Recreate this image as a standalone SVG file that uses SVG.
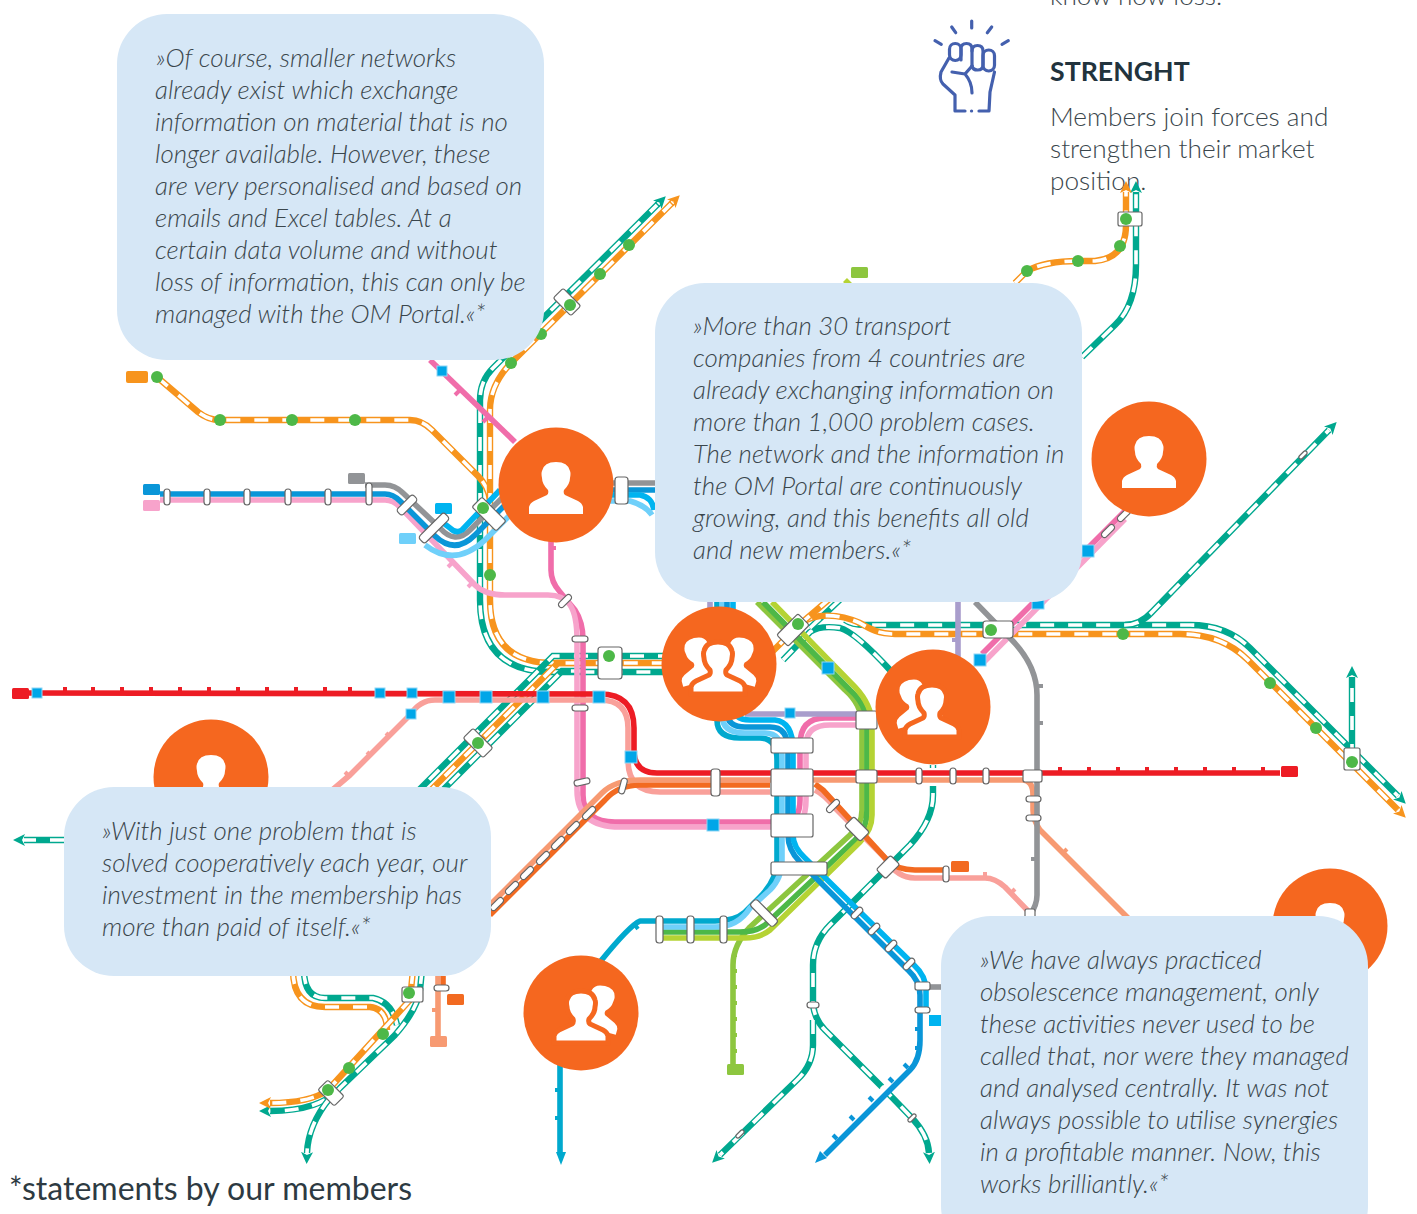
<svg xmlns="http://www.w3.org/2000/svg" width="1417" height="1214" viewBox="0 0 1417 1214">
<style>
text{font-family:Lato,"Liberation Sans",sans-serif}
.q{font-size:25.9px;font-weight:300;font-style:italic;fill:#3a464c}
.b{font-size:26.2px;font-weight:300;fill:#3a464c}
.l{fill:none;stroke-width:5.6;stroke-linejoin:round}
.d{fill:none;stroke:#fff;stroke-width:3.6;stroke-dasharray:14 14}
.t{fill:none;stroke:#00a88f;stroke-width:6.4}
.o{fill:none;stroke:#f7941d;stroke-width:6.4}
.at{marker-end:url(#mt)}.ao{marker-end:url(#mo)}
.h{fill:#fff;stroke:#666;stroke-width:1.2}
.g{fill:#4db848}.s{fill:#00a6e8;stroke:#8ed6f5;stroke-width:1}
.c{fill:#f5671f}.bub{fill:#d6e7f6}.w{fill:#fff}.wo{fill:#fff;stroke:#f5671f;stroke-width:5}
</style>
<defs>
<marker id="mt" markerUnits="userSpaceOnUse" markerWidth="14" markerHeight="14" refX="1" refY="7" orient="auto"><path d="M0 1L12 7L0 13L3 7Z" fill="#00a88f"/></marker>
<marker id="mo" markerUnits="userSpaceOnUse" markerWidth="14" markerHeight="14" refX="1" refY="7" orient="auto"><path d="M0 1L12 7L0 13L3 7Z" fill="#f7941d"/></marker>
<path id="p" d="M-27 29L-27 22Q-26 18-22 16L-9 10Q-7 8-8 5Q-14-1-14-7Q-15-12-14-14Q-12-23 0-23Q12-23 14-14Q15-12 14-7Q14-1 8 5Q7 8 9 10L22 16Q26 18 27 22L27 29Z"/>
<path id="T1" d="M660 202L493 368Q480 381 480 400L480 600Q480 672 552 672L700 672"/>
<path id="O1" d="M673 202L511 363Q490 385 490 410L490 600Q490 663 553 663L700 663"/>
<path id="O2" d="M157 377L198 412Q208 420 220 420L410 420Q422 420 432 430L478 476Q488 486 490 500"/>
<path id="T2" d="M700 656L575 656Q563 656 553 656L535 674L410 799"/>
<path id="O3" d="M580 663Q568 663 558 663L545 676L420 801"/>
<path id="T3" d="M585 671Q572 671 562 671L550 683L430 803"/>
<path id="O4" d="M760 664L800 624C815 612 840 614 860 623C870 629 878 634 895 634L1180 634Q1222 634 1248 660L1398 810"/>
<path id="O5" d="M799 625L840 590"/>
<path id="T4" d="M783 660L810 632Q820 625 840 628Q855 632 890 670"/>
<path id="T5" d="M810 628L845 595"/>
<path id="T6" d="M845 620Q852 625 865 625L1190 625Q1227 625 1250 648L1398 796"/>
<path id="T7" d="M1125 625Q1140 625 1152 612L1329 430"/>
<path id="T8" d="M1352 758L1352 677"/>
<path id="T9" d="M933 765L933 795Q933 820 910 845L830 925Q813 942 813 965L813 1005Q815 1020 825 1030L885 1090L912 1118Q928 1135 929 1153"/>
<path id="T10" d="M813 1020L813 1045Q813 1065 797 1080L720 1155"/>
<path id="T11" d="M1082 357L1115 325Q1136 305 1136 265L1136 192"/>
<path id="O6" d="M1015 283L1027 271Q1045 261 1078 261L1095 261Q1126 258 1126 225L1126 192"/>
<path id="O7" d="M293 970Q293 1007 325 1007L370 1007Q387 1009 387 1030"/>
<path id="T12" d="M304 970Q304 998 325 998L373 998Q392 1002 397 1025"/>
<path id="O8" d="M413 970L410 1000L328 1090Q310 1103 270 1103"/>
<path id="T13" d="M422 970L420 990Q417 1010 395 1035L340 1088Q320 1111 270 1111"/>
<path id="T14" d="M330 1098Q308 1125 307 1153"/>
<path id="T15" d="M64 840L24 840"/>
</defs>

<g id="side-text">
<text class="b" x="1050" y="5">know how loss.</text>
<text x="1050" y="81" font-size="26.700" font-weight="700" fill="#22333d">STRENGHT</text>
<text class="b" x="1050" y="126">Members join forces and</text>
<text class="b" x="1050" y="158">strengthen their market</text>
<text class="b" x="1050" y="190">position.</text>
<text x="9" y="1200" font-size="32" fill="#2d3a42">*statements by our members</text>
</g>
<g id="fist" fill="none" stroke="#4460ae" stroke-width="3.200" stroke-linecap="round" stroke-linejoin="round">
<path d="M971.7 21V28M951.7 27L955.7 32.7M991.7 27L987.3 32.7M935 40.7L941.3 44.3M1008.3 40.7L1002 44.3"/>
<rect x="949.5" y="43.5" width="11.5" height="17" rx="5.7"/>
<path d="M961 60V49Q961 43.5 966.5 43.5Q972 43.5 972 49V66"/>
<path d="M972 51Q972 45.5 977.5 45.5Q983 45.5 983 51V65Q983 70 977.5 70Q973 70 972 66"/>
<rect x="983" y="50" width="11.5" height="21" rx="5.7"/>
<path d="M949 58L941 72Q939 80 943 84L955 95V111H965M979 111H989L990 92L994.5 72"/>
<path d="M952 72L965 74L972 66M965 74Q972 82 972 93"/><path d="M971.5 111h.1"/>
</g>

<g id="connectors">
<use href="#T1" class="t"/><use href="#T1" class="d"/>
<path class="t at" d="M657 205L658 204"/>
<use href="#O2" class="o"/><use href="#O2" class="d"/>
<use href="#O1" class="o"/><use href="#O1" class="d"/>
<path class="o ao" d="M671 204L672 203"/>
<use href="#T2" class="t"/><use href="#T2" class="d"/>
<use href="#O3" class="o"/><use href="#O3" class="d"/>
<use href="#T3" class="t"/><use href="#T3" class="d"/>
<use href="#T6" class="t at"/><use href="#T6" class="d"/>
<use href="#T4" class="t"/><use href="#T4" class="d"/>
<use href="#T5" class="t"/><use href="#T5" class="d"/>
<use href="#O4" class="o ao"/><use href="#O4" class="d"/>
<use href="#O5" class="o"/><use href="#O5" class="d"/>
<use href="#T7" class="t at"/><use href="#T7" class="d"/>
<use href="#T8" class="t at"/><use href="#T8" class="d"/>
<use href="#T9" class="t at"/><use href="#T9" class="d"/>
<use href="#T10" class="t at"/><use href="#T10" class="d"/>
<use href="#T11" class="t at"/><use href="#T11" class="d"/>
<use href="#O6" class="o ao"/><use href="#O6" class="d"/>
<use href="#T12" class="t"/><use href="#T12" class="d"/>
<use href="#O7" class="o"/><use href="#O7" class="d"/>
<use href="#T13" class="t at"/><use href="#T13" class="d"/>
<use href="#O8" class="o ao"/><use href="#O8" class="d"/>
<use href="#T14" class="t at"/><use href="#T14" class="d"/>
<use href="#T15" class="t at"/><use href="#T15" class="d"/>
<!-- halos where lines pass over the dashed lines -->
<path fill="none" stroke="#fff" stroke-width="9" d="M933 768V786M872 1103L898 1077"/>
<!-- greens -->
<path class="l" stroke="#8dc63f" d="M757 602L845 690Q862 705 862 725L862 810Q862 825 850 835L750 927Q733 945 733 965L733 1064"/>
<path class="l" stroke="#4db848" d="M763 602L850 690Q867 705 867 725L867 810Q867 830 855 840L765 925Q755 932 740 932L660 932"/>
<path class="l" stroke="#b5d334" d="M772 602L855 687Q872 705 872 725L872 815Q872 830 860 842L770 930Q760 938 745 938L660 938M845 280L852 287"/>
<!-- pink, gray, blues -->
<path class="l" stroke="#f06daa" d="M430 360L515 442"/>
<path class="l" stroke="#f06daa" d="M551 535L551 570Q551 582 560 592L575 610Q583 622 583 640L583 795Q583 822 615 822L785 822Q800 820 800 800L800 745Q800 718 825 718L865 718"/>
<path class="l" stroke="#f7a3cb" d="M160 500L385 500Q393 500 400 507L475 585Q485 595 505 595L548 595Q563 595 570 605Q577 615 577 640L577 790Q577 827 620 827L790 827Q806 825 806 800L806 745Q806 725 830 725L865 725"/>
<path class="l" stroke="#929497" d="M365 485L385 485Q395 485 403 493L440 528Q455 545 470 530L510 490M610 483L660 483"/>
<path class="l" stroke="#0a96d8" d="M160 494L385 494Q393 494 400 501L435 536Q455 555 475 535L515 495M610 490L660 490"/>
<path class="l" stroke="#00b4f0" d="M442 522L450 528Q456 534 462 530L500 490M610 495L640 495Q652 497 654 510"/>
<path class="l" stroke="#6fd0fa" d="M425 545Q455 568 485 540L520 505M610 501L630 501Q645 505 652 515"/>
<path class="l" stroke="#a99dcc" d="M710 600V625M745 714H865M958 600V665"/>
<path class="l" stroke="#00a9ce" d="M717 600L717 720Q717 738 740 738L760 738Q777 738 777 760L777 860Q777 880 760 897L745 912Q735 921 715 921L640 921Q630 925 600 962M560 1060V1155"/>
<path class="l" stroke="#6fd0fa" d="M722 600L722 715Q722 733 745 733L765 733Q782 733 782 755L782 860Q782 878 770 890L750 908Q738 927 715 927L660 927"/>
<path class="l" stroke="#0a96d8" d="M727 600L727 712Q727 727 745 727L770 727Q788 727 788 750L788 835Q788 850 800 862L908 970Q920 981 920 995L920 1040Q920 1060 910 1070L825 1155"/>
<path class="l" stroke="#00b4f0" d="M733 600L733 705Q733 720 750 720L775 720Q793 722 793 750L793 835Q793 847 805 858L914 965Q926 976 926 990V1010"/>
<path class="l" stroke="#929497" d="M930 987H942"/>
<path d="M815 1163L820 1151L827 1158Z" fill="#0a96d8"/><path d="M561 1165L556 1152H566Z" fill="#00a9ce"/>
<!-- red / orange / salmon -->
<path class="l" stroke="#f9a09a" d="M330 792L350 775L410 715Q420 700 435 700L600 700Q628 700 628 728L628 760Q628 792 660 792L770 792M815 790Q825 795 835 808L885 858Q897 878 915 878L985 878Q995 878 1005 887L1030 913"/>
<path class="l" stroke="#ed1c24" stroke-width="6" d="M29 693L600 694Q634 694 634 728L634 750Q634 773 657 773L1280 773"/>
<path class="l" stroke="#f26a21" d="M490 915L605 800Q618 785 640 785L770 785M815 784L823 790L887 860Q897 870 915 870L945 870M443 976V990"/>
<path class="l" stroke="#f79a72" d="M485 910L602 793Q615 780 640 780L1022 780Q1033 780 1033 795L1033 810Q1033 820 1040 830L1130 920M438 976V1036"/>
<path class="l" stroke="#f06daa" d="M1125 511L982 654"/>
<path class="l" stroke="#f7a3cb" d="M1125 519L984 662"/>
<path class="l" stroke="#929497" d="M975 602L1010 638Q1037 665 1037 695L1037 895Q1037 905 1030 915"/>
<!-- ticks -->
<path fill="none" stroke="#ed1c24" stroke-width="4" d="M65 693v-6M93 693v-6M122 693v-6M151 693v-6M180 693v-6M209 693v-6M238 693v-6M267 693v-6M296 693v-6M325 693v-6M350 693v-6M1060 773v-6M1089 773v-6M1118 773v-6M1147 773v-6M1176 773v-6M1205 773v-6M1234 773v-6M1263 773v-6"/>
<path fill="none" stroke="#929497" stroke-width="4" d="M1037 686h6M1037 723h6M1037 859h-6"/>
<path fill="none" stroke="#a99dcc" stroke-width="4" d="M958 640h-6"/>
<path fill="none" stroke="#f7a3cb" stroke-width="4" d="M452 563l-4 4M472 583l-4 4"/>
<path fill="none" stroke="#f06daa" stroke-width="4" d="M459 391l-4 4M487 418l-4 4M551 548h5"/>
<path fill="none" stroke="#f9a09a" stroke-width="4" d="M345 772l4 4M367 752l4 4M386 733l4 4M985 878v-6M1011 893l4-4"/>
<path fill="none" stroke="#f79a72" stroke-width="4" d="M1063 853l4-4M438 1010h-6"/>
<path fill="none" stroke="#8dc63f" stroke-width="4" d="M733 955h4M733 971h4M733 987h4M733 1003h4M733 1019h4M733 1035h4M733 1051h4"/>
<path fill="none" stroke="#00a9ce" stroke-width="4" d="M635 925l3 4M560 1090h-5M560 1118h-5"/>
<path fill="none" stroke="#0a96d8" stroke-width="4" d="M920 1029h-5M920 1048h-5M908 1068l-4-4M893 1082l-4-4M873 1101l-4-4M854 1120l-4-4M837 1139l-4-4"/>
</g>

<g id="end-caps">
<rect x="126" y="371" width="22" height="12" rx="2" fill="#f7941d"/>
<rect x="143" y="484" width="17" height="11" rx="1.5" fill="#0a96d8"/>
<rect x="143" y="500" width="17" height="11" rx="1.5" fill="#f7a3cb"/>
<rect x="348" y="473" width="17" height="11" rx="1.5" fill="#929497"/>
<rect x="435" y="503" width="17" height="11" rx="1.5" fill="#00b4f0"/>
<rect x="399" y="533" width="17" height="11" rx="1.5" fill="#6fd0fa"/>
<rect x="851" y="267" width="17" height="11" rx="1.5" fill="#8dc63f"/>
<rect x="12" y="688" width="17" height="11" rx="1.5" fill="#ed1c24"/>
<rect x="1281" y="766" width="17" height="11" rx="1.5" fill="#ed1c24"/>
<rect x="951" y="861" width="18" height="11" rx="1.5" fill="#f26a21"/>
<rect x="447" y="994" width="17" height="11" rx="1.5" fill="#f26a21"/>
<rect x="430" y="1036" width="17" height="11" rx="1.5" fill="#f79a72"/>
<rect x="727" y="1064" width="17" height="11" rx="1.5" fill="#8dc63f"/>
</g>

<g id="squares">
<rect class="s" x="32" y="688" width="10" height="10"/><rect class="s" x="375" y="688" width="10" height="10"/><rect class="s" x="407" y="688" width="10" height="10"/>
<rect class="s" x="443" y="691" width="12" height="12"/><rect class="s" x="480" y="691" width="12" height="12"/><rect class="s" x="537" y="691" width="12" height="12"/><rect class="s" x="593" y="691" width="12" height="12"/>
<rect class="s" x="406" y="709" width="10" height="10"/><rect class="s" x="437" y="366" width="10" height="10"/>
<rect class="s" x="625" y="751" width="12" height="12"/><rect class="s" x="707" y="819" width="12" height="12"/><rect class="s" x="785" y="708" width="10" height="10"/>
<rect class="s" x="822" y="662" width="12" height="12"/><rect class="s" x="974" y="654" width="12" height="12"/><rect class="s" x="1032" y="597" width="12" height="12"/>
<rect class="s" x="1082" y="545" width="12" height="12"/><rect x="929" y="1015" width="12" height="11" fill="#00b4f0"/>
</g>

<g id="stations">
<g id="h01"><rect class="h" x="164" y="489" width="6" height="16" rx="3"/></g>
<g id="h02"><rect class="h" x="204" y="489" width="6" height="16" rx="3"/></g>
<g id="h03"><rect class="h" x="244" y="489" width="6" height="16" rx="3"/></g>
<g id="h04"><rect class="h" x="285" y="489" width="6" height="16" rx="3"/></g>
<g id="h05"><rect class="h" x="325" y="489" width="6" height="16" rx="3"/></g>
<g id="h06"><rect class="h" x="366" y="483" width="6" height="22" rx="3"/></g>
<g id="h07"><rect class="h" x="-4" y="-11.500" width="8" height="23" rx="3" transform="translate(407 505) rotate(45)"/></g>
<g id="h08"><rect class="h" x="-4.500" y="-18" width="9" height="36" rx="3" transform="translate(434 528) rotate(45)"/></g>
<g id="h09"><rect class="h" x="-17" y="-7" width="34" height="14" rx="2" transform="translate(489 514) rotate(45)"/><circle class="g" cx="483" cy="508" r="6"/></g>
<g id="h10"><rect class="h" x="615" y="477" width="13" height="27" rx="3"/></g>
<g id="h11"><rect class="h" x="-3" y="-8" width="6" height="16" rx="3" transform="translate(565 601) rotate(45)"/></g>
<g id="h12"><rect class="h" x="572" y="636" width="16" height="6" rx="3"/></g>
<g id="h13"><rect class="h" x="572" y="705" width="16" height="6" rx="3"/></g>
<g id="h14"><rect class="h" x="574" y="779" width="16" height="6" rx="3" transform="rotate(-12 582 782)"/></g>
<g id="h15"><rect class="h" x="598" y="647" width="24" height="32" rx="3"/><circle class="g" cx="609" cy="656" r="6"/></g>
<g id="h16"><rect class="h" x="711" y="769" width="9" height="27" rx="3"/></g>
<g id="h17"><rect class="h" x="771" y="738" width="42" height="15" rx="2"/></g>
<g id="h18"><rect class="h" x="771" y="769" width="42" height="27" rx="2"/></g>
<g id="h19"><rect class="h" x="771" y="814" width="42" height="23" rx="2"/></g>
<g id="h20"><rect class="h" x="771" y="862" width="56" height="13" rx="2"/></g>
<g id="h21"><rect class="h" x="856" y="711" width="21" height="18" rx="2"/></g>
<g id="h22"><rect class="h" x="856" y="770" width="21" height="13" rx="2"/></g>
<g id="h23"><rect class="h" x="916" y="768" width="6" height="16" rx="3"/></g>
<g id="h24"><rect class="h" x="950" y="768" width="6" height="16" rx="3"/></g>
<g id="h25"><rect class="h" x="983" y="768" width="6" height="16" rx="3"/></g>
<g id="h26"><rect class="h" x="1023" y="770" width="19" height="12" rx="2"/></g>
<g id="h27"><rect class="h" x="1026" y="796" width="15" height="6" rx="3"/></g>
<g id="h28"><rect class="h" x="1026" y="815" width="15" height="6" rx="3"/></g>
<g id="h29"><rect class="h" x="-3" y="-8" width="6" height="16" rx="3" transform="translate(833 806) rotate(45)"/></g>
<g id="h30"><rect class="h" x="-11" y="-6.500" width="22" height="13" rx="2" transform="translate(857 829) rotate(45)"/></g>
<g id="h31"><rect class="h" x="-10" y="-6.500" width="20" height="13" rx="2" transform="translate(888 867) rotate(-45)"/></g>
<g id="h32"><rect class="h" x="943" y="866" width="6" height="16" rx="3"/></g>
<g id="h33"><rect class="h" x="-16" y="-4.500" width="32" height="9" rx="3" transform="translate(764 913) rotate(45)"/></g>
<g id="h34"><rect class="h" x="656" y="916" width="7" height="27" rx="3"/></g>
<g id="h35"><rect class="h" x="687" y="916" width="7" height="27" rx="3"/></g>
<g id="h36"><rect class="h" x="720" y="916" width="7" height="27" rx="3"/></g>
<g id="h37"><rect class="h" x="-3" y="-7" width="6" height="14" rx="3" transform="translate(857 913) rotate(45)"/></g>
<g id="h38"><rect class="h" x="-3" y="-7" width="6" height="14" rx="3" transform="translate(874 929) rotate(45)"/></g>
<g id="h39"><rect class="h" x="-3" y="-7" width="6" height="14" rx="3" transform="translate(891 946) rotate(45)"/></g>
<g id="h40"><rect class="h" x="-3" y="-7" width="6" height="14" rx="3" transform="translate(909 964) rotate(45)"/></g>
<g id="h41"><rect class="h" x="915" y="982" width="15" height="8" rx="2"/></g>
<g id="h42"><rect class="h" x="915" y="1007" width="15" height="6" rx="3"/></g>
<g id="h43"><rect class="h" x="-15" y="-8" width="30" height="16" rx="2" transform="translate(793 630) rotate(-45)"/><circle class="g" cx="798" cy="624" r="6"/></g>
<g id="h44"><rect class="h" x="983" y="621" width="30" height="17" rx="3"/><circle class="g" cx="991" cy="630" r="6"/></g>
<g id="h45"><rect class="h" x="807" y="1002" width="12" height="6" rx="3"/></g>
<g id="h46"><rect class="h" x="-2" y="-5" width="4" height="10" rx="2" transform="translate(740 1134) rotate(45)"/></g>
<g id="h47"><rect class="h" x="-2" y="-5" width="4" height="10" rx="2" transform="translate(912 1118) rotate(45)"/></g>
<g id="h48"><rect class="h" x="-2" y="-5" width="4" height="10" rx="2" transform="translate(1303 455) rotate(45)"/></g>
<g id="h49"><rect class="h" x="-3" y="-8" width="6" height="16" rx="3" transform="translate(1124 515) rotate(45)"/></g>
<g id="h50"><rect class="h" x="-3" y="-8" width="6" height="16" rx="3" transform="translate(1108 531) rotate(45)"/></g>
<g id="h51"><rect class="h" x="-14" y="-7" width="28" height="14" rx="2" transform="translate(478 743) rotate(45)"/><circle class="g" cx="478" cy="743" r="6"/></g>
<g id="h52"><rect class="h" x="1118" y="212" width="24" height="14" rx="2"/><circle class="g" cx="1126" cy="219" r="6"/></g>
<g id="h53"><rect class="h" x="1344" y="748" width="16" height="22" rx="2"/><circle class="g" cx="1352" cy="762" r="6"/></g>
<g id="h54"><rect class="h" x="402" y="987" width="21" height="15" rx="2"/><circle class="g" cx="409" cy="993" r="6"/></g>
<g id="h55"><rect class="h" x="-11.500" y="-7" width="23" height="14" rx="2" transform="translate(331 1093) rotate(45)"/><circle class="g" cx="328" cy="1090" r="6"/></g>
<g id="h56"><rect class="h" x="434" y="985" width="15" height="6" rx="3"/></g>
<g id="h57"><rect class="h" x="1025" y="909" width="10" height="10" rx="2"/></g>
<g id="h58"><rect class="h" x="-3" y="-8" width="6" height="16" rx="3" transform="translate(497 904) rotate(45)"/></g>
<g id="h59"><rect class="h" x="-3" y="-8" width="6" height="16" rx="3" transform="translate(512 888) rotate(45)"/></g>
<g id="h60"><rect class="h" x="-3" y="-8" width="6" height="16" rx="3" transform="translate(527 873) rotate(45)"/></g>
<g id="h61"><rect class="h" x="-3" y="-8" width="6" height="16" rx="3" transform="translate(543 858) rotate(45)"/></g>
<g id="h62"><rect class="h" x="-3" y="-8" width="6" height="16" rx="3" transform="translate(558 843) rotate(45)"/></g>
<g id="h63"><rect class="h" x="-3" y="-8" width="6" height="16" rx="3" transform="translate(573 828) rotate(45)"/></g>
<g id="h64"><rect class="h" x="-3" y="-8" width="6" height="16" rx="3" transform="translate(589 813) rotate(45)"/></g>
<g id="h65"><rect class="h" x="-3" y="-8" width="6" height="16" rx="3" transform="translate(623 786) rotate(15)"/></g>
<g id="h66"><rect class="h" x="-12.500" y="-7" width="25" height="14" rx="2" transform="translate(567 302) rotate(45)"/></g>
<g id="dots" class="g">
<circle cx="157" cy="377" r="6"/><circle cx="220" cy="420" r="6"/><circle cx="292" cy="420" r="6"/><circle cx="355" cy="420" r="6"/><circle cx="490" cy="575" r="6"/>
<circle cx="511" cy="363" r="6"/><circle cx="541" cy="334" r="6"/><circle cx="570" cy="305" r="6"/><circle cx="600" cy="274" r="6"/><circle cx="629" cy="245" r="6"/>
<circle cx="1123" cy="634" r="6"/><circle cx="1270" cy="683" r="6"/><circle cx="1316" cy="728" r="6"/>
<circle cx="1120" cy="246" r="6"/><circle cx="1078" cy="261" r="6"/><circle cx="1027" cy="271" r="6"/>
<circle cx="383" cy="1034" r="6"/><circle cx="349" cy="1068" r="6"/>
</g>
</g>

<g id="member-1"><circle class="c" cx="556" cy="485" r="57.500"/><use href="#p" class="w" x="556" y="485"/></g>
<g id="member-2"><circle class="c" cx="1149" cy="459" r="57.500"/><use href="#p" class="w" x="1149" y="459"/></g>
<g id="member-3"><circle class="c" cx="719" cy="664" r="57.500"/>
<use href="#p" class="w" transform="translate(699 657) rotate(-15) scale(.85)"/><use href="#p" class="w" transform="translate(739 657) rotate(15) scale(.85)"/><use href="#p" class="wo" x="718" y="665"/></g>
<g id="member-4"><circle class="c" cx="933" cy="707" r="57.500"/>
<use href="#p" class="w" transform="translate(914 699) rotate(-15) scale(.85)"/><use href="#p" class="wo" x="932" y="708"/></g>
<g id="member-5"><circle class="c" cx="211" cy="777" r="57.500"/><use href="#p" class="w" x="211" y="778"/></g>
<g id="member-6"><circle class="c" cx="1330" cy="926" r="57.500"/><use href="#p" class="w" x="1330" y="926"/></g>
<g id="member-7"><circle class="c" cx="581" cy="1013" r="57.500"/>
<use href="#p" class="w" transform="translate(600 1005) rotate(15) scale(.85)"/><use href="#p" class="wo" x="581" y="1014"/></g>

<g id="quote-1"><rect class="bub" x="117" y="14" width="427" height="346" rx="50"/>
<text class="q" x="156" y="67">»Of course, smaller networks</text>
<text class="q" x="155" y="99">already exist which exchange</text>
<text class="q" x="155" y="131">information on material that is no</text>
<text class="q" x="155" y="163">longer available. However, these</text>
<text class="q" x="155" y="195">are very personalised and based on</text>
<text class="q" x="155" y="227">emails and Excel tables. At a</text>
<text class="q" x="155" y="259">certain data volume and without</text>
<text class="q" x="155" y="291">loss of information, this can only be</text>
<text class="q" x="155" y="323">managed with the OM Portal.«*</text></g>
<g id="quote-2"><rect class="bub" x="655" y="283" width="427" height="319" rx="50"/>
<text class="q" x="693" y="335">»More than 30 transport</text>
<text class="q" x="693" y="367">companies from 4 countries are</text>
<text class="q" x="693" y="399">already exchanging information on</text>
<text class="q" x="693" y="431">more than 1,000 problem cases.</text>
<text class="q" x="693" y="463">The network and the information in</text>
<text class="q" x="693" y="495">the OM Portal are continuously</text>
<text class="q" x="693" y="527">growing, and this benefits all old</text>
<text class="q" x="693" y="559">and new members.«*</text></g>
<g id="quote-3"><rect class="bub" x="64" y="787" width="427" height="189" rx="50"/>
<text class="q" x="102" y="840">»With just one problem that is</text>
<text class="q" x="102" y="872">solved cooperatively each year, our</text>
<text class="q" x="102" y="904">investment in the membership has</text>
<text class="q" x="102" y="936">more than paid of itself.«*</text></g>
<g id="quote-4"><rect class="bub" x="941" y="916" width="427" height="340" rx="50"/>
<text class="q" x="980" y="969">»We have always practiced</text>
<text class="q" x="980" y="1001">obsolescence management, only</text>
<text class="q" x="980" y="1033">these activities never used to be</text>
<text class="q" x="980" y="1065">called that, nor were they managed</text>
<text class="q" x="980" y="1097">and analysed centrally. It was not</text>
<text class="q" x="980" y="1129">always possible to utilise synergies</text>
<text class="q" x="980" y="1161">in a profitable manner. Now, this</text>
<text class="q" x="980" y="1193">works brilliantly.«*</text></g>
</svg>
